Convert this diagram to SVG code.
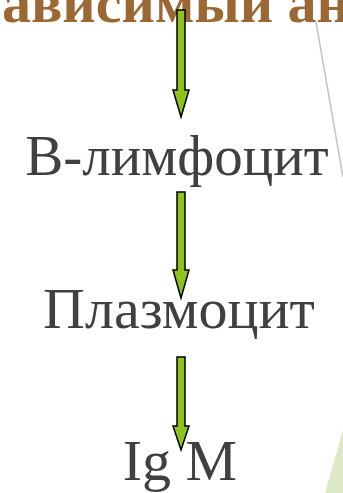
<svg xmlns="http://www.w3.org/2000/svg" width="343" height="493" viewBox="0 0 343 493">
<style>
.lbl{font-family:"Liberation Serif","Times New Roman",serif;font-size:58px;fill:#404040;text-anchor:middle}
.ttl{font-family:"Liberation Serif","Times New Roman",serif;font-size:58px;font-weight:bold;fill:#9b6733}
.arr{fill:#8dc21f;stroke:#000;stroke-width:1.5;stroke-linejoin:miter}
</style>
<rect width="343" height="493" fill="#fff"/>
<polygon points="325,493 343,430 343,493" fill="#dde9c4"/>
<line x1="316" y1="22" x2="343" y2="177" stroke="#c3c3c3" stroke-width="1.5"/>
<g id="title"><text class="ttl" x="2" y="22">ависимый ан</text></g>
<g id="n1"><text class="lbl" x="177" y="175" style="font-size:57px">B-лимфоцит</text></g>
<g id="n2"><text class="lbl" x="179" y="328">Плазмоцит</text></g>
<g id="n3"><text class="lbl" x="180" y="480">Ig M</text></g>
<g id="connectors">
<polygon class="arr" points="177,10 185,10 185,90 189,90 181,117 173,90 177,90"/>
<polygon class="arr" points="177,192 185,192 185,270 189,270 181,298 173,270 177,270"/>
<polygon class="arr" points="177,357 185,357 185,426 189,426 181,450 173,426 177,426"/>
</g>
</svg>
